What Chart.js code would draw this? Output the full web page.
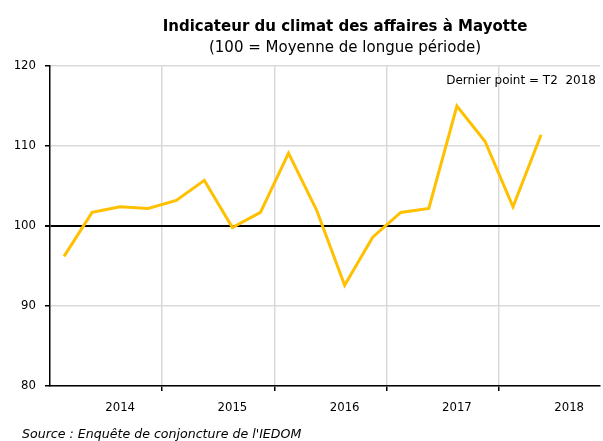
<!DOCTYPE html>
<html>
<head>
<meta charset="utf-8">
<script src="https://cdn.jsdelivr.net/npm/chart.js@4/dist/chart.umd.min.js"></script>
<style>
  html, body { margin: 0; padding: 0; background: #fff; }
  #wrap { width: 603px; height: 441px; position: relative; }
</style>
</head>
<body>
<div id="wrap"><canvas id="c"></canvas></div>
<script>
// quarterly values, T1 2014 -> T2 2018
const quarters = ["T1 2014","T2 2014","T3 2014","T4 2014","T1 2015","T2 2015","T3 2015","T4 2015",
  "T1 2016","T2 2016","T3 2016","T4 2016","T1 2017","T2 2017","T3 2017","T4 2017","T1 2018","T2 2018"];
const climat = [96.2, 101.7, 102.4, 102.2, 103.2, 105.7, 99.8, 101.7,
  109.1, 102.0, 92.6, 98.6, 101.7, 102.2, 115.0, 110.6, 102.4, 111.4];
const years = ["2014","2015","2016","2017","2018"];
const yearPos = [2, 6, 10, 14, 18];
const yearBreaks = [3.5, 7.5, 11.5, 15.5];

const FONT = "'DejaVu Sans Condensed', 'DejaVu Sans', sans-serif";
const FONT_WIDE = "'DejaVu Sans', sans-serif";

const textPlugin = {
  id: 'texts',
  afterDraw(chart) {
    const ctx = chart.ctx;
    ctx.save();
    ctx.fillStyle = '#000';
    ctx.textAlign = 'center';
    ctx.textBaseline = 'alphabetic';
    ctx.font = "bold 15px " + FONT_WIDE;
    ctx.fillText("Indicateur du climat des affaires à Mayotte", 345, 31);
    ctx.font = "15px " + FONT_WIDE;
    ctx.fillText("(100 = Moyenne de longue période)", 345, 52);
    ctx.textAlign = 'right';
    ctx.font = "12px " + FONT_WIDE;
    ctx.fillText("Dernier point = T2  2018", 596, 84);
    ctx.textAlign = 'left';
    ctx.font = "italic 12.6px " + FONT_WIDE;
    ctx.fillText("Source : Enquête de conjoncture de l'IEDOM", 22, 438);
    ctx.restore();
  }
};

new Chart(document.getElementById('c'), {
  type: 'line',
  data: {
    datasets: [{
      label: 'Indicateur du climat des affaires',
      data: climat.map((v, i) => ({x: i, y: v})),
      borderColor: '#FFC000',
      borderWidth: 3,
      pointRadius: 0,
      tension: 0,
      fill: false
    }]
  },
  options: {
    responsive: true,
    maintainAspectRatio: false,
    animation: false,
    layout: { padding: { left: 0, right: 3, top: 66, bottom: 0 } },
    plugins: {
      legend: { display: false },
      tooltip: { enabled: false }
    },
    scales: {
      x: {
        type: 'linear',
        min: -0.5,
        max: 19.1,
        afterBuildTicks: (axis) => {
          axis.ticks = yearPos.concat(yearBreaks).sort((a, b) => a - b).map(v => ({value: v}));
        },
        afterFit: (axis) => { axis.height = 55; },
        grid: {
          color: (c) => yearBreaks.includes(c.tick && c.tick.value) ? '#d9d9d9' : 'rgba(0,0,0,0)',
          tickColor: (c) => yearBreaks.includes(c.tick && c.tick.value) ? '#000' : 'rgba(0,0,0,0)',
          lineWidth: 1.5,
          tickLength: 5
        },
        border: { color: '#000', width: 1.5 },
        ticks: {
          autoSkip: false,
          maxRotation: 0,
          padding: 9,
          color: '#000',
          font: { family: FONT, size: 13 },
          callback: (v) => {
            const k = yearPos.indexOf(v);
            return k >= 0 ? years[k] : '';
          }
        }
      },
      y: {
        min: 80,
        max: 120,
        afterFit: (axis) => { axis.width = 50; },
        grid: {
          color: (c) => c.tick && c.tick.value === 100 ? '#000' : '#d9d9d9',
          lineWidth: (c) => c.tick && c.tick.value === 100 ? 2 : 1.5,
          tickColor: '#000',
          tickLength: 5
        },
        border: { color: '#000', width: 1.5 },
        ticks: {
          stepSize: 10,
          padding: 9,
          color: '#000',
          font: { family: FONT, size: 13 }
        }
      }
    }
  },
  plugins: [textPlugin]
});
</script>
</body>
</html>
